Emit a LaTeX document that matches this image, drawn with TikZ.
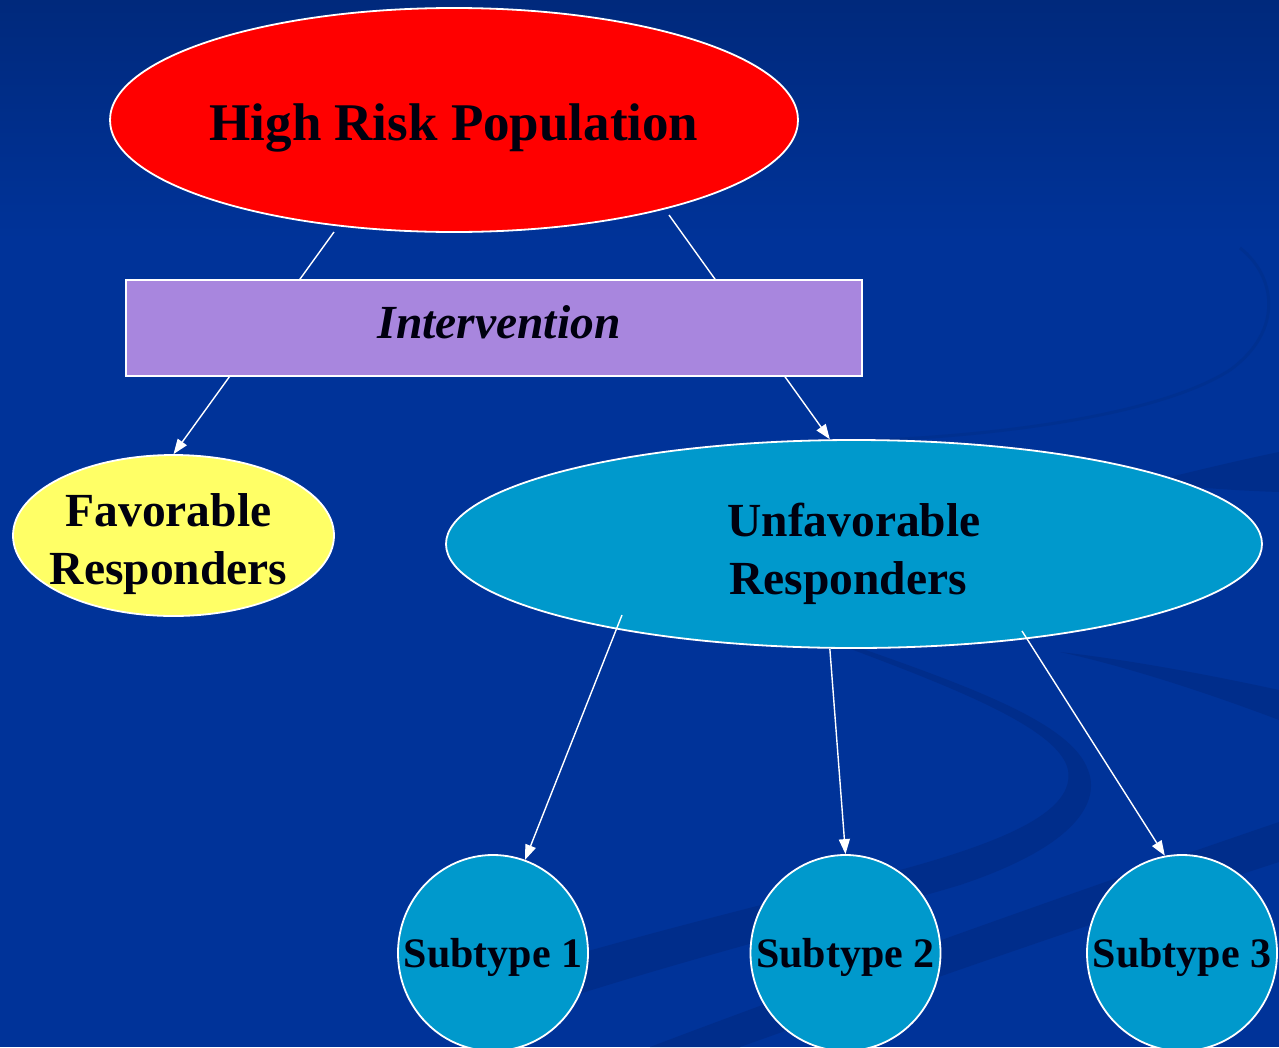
\documentclass[tikz,border=0pt]{standalone}
\usepackage{fontspec}
\setmainfont{Liberation Serif}
\usetikzlibrary{shapes.geometric,arrows.meta,calc}
\definecolor{bgblue}{HTML}{003399}
\definecolor{bgtop}{HTML}{00297C}
\definecolor{swoosh}{HTML}{002D8B}
\definecolor{swooshfaint}{HTML}{003090}
\definecolor{redfill}{HTML}{FF0000}
\definecolor{lilac}{HTML}{A886DE}
\definecolor{lemon}{HTML}{FFFF66}
\definecolor{cyanfill}{HTML}{0099CC}
\definecolor{inkblack}{HTML}{00000F}
% text placed with its baseline at a given offset, taking no room
\newcommand{\placedtext}[2]{\raisebox{#1}[0pt][0pt]{\makebox[0pt]{#2}}}
\pgfdeclarelayer{bglayer}
\pgfdeclarelayer{edgelayer}
\pgfdeclarelayer{frontlayer}
\pgfsetlayers{bglayer,edgelayer,main,frontlayer}
\tikzset{
  oval/.style={ellipse, draw=white, line width=1.8pt, inner sep=0pt, text=inkblack, align=center},
  bigtext/.style={font=\fontsize{53}{60}\selectfont\bfseries},
  midtext/.style={font=\fontsize{47.5}{58}\selectfont\bfseries},
  smalltext/.style={font=\fontsize{42}{48}\selectfont\bfseries},
  boxstyle/.style={rectangle, draw=white, line width=1.8pt, fill=lilac, text=inkblack,
    minimum width=736pt, minimum height=96pt, inner sep=0pt},
  subnode/.style={oval, fill=cyanfill, minimum width=190pt, minimum height=196pt, smalltext},
  arr/.style={draw=white, line width=1.4pt, -{Triangle[width=11pt,length=15pt,fill=white]}},
}
\begin{document}
\begin{tikzpicture}[x=1pt,y=-1pt]
\useasboundingbox (0,0) rectangle (1279,1047);

% nodes
\node[oval, fill=redfill, minimum width=688pt, minimum height=224pt, bigtext] (hrp) at (454,120)
  {\placedtext{-20pt}{High Risk Population}};
\node[boxstyle, font=\fontsize{47.5}{57}\selectfont\bfseries\itshape] (intv) at (494,328)
  {\placedtext{-10pt}{\hspace{10pt}Intervention}};
\node[oval, fill=lemon, minimum width=321pt, minimum height=161pt, midtext] (fav) at (173.5,535.5)
  {\placedtext{-20pt}{\hspace{-10pt}Favorable}\\\placedtext{-20pt}{\hspace{-10pt}Responders}};
\node[oval, fill=cyanfill, minimum width=816pt, minimum height=208pt, midtext] (unf) at (854,544)
  {\placedtext{-21pt}{Unfavorable}\\\placedtext{-21pt}{\hspace{-12pt}Responders}};
\node[subnode] (sub1) at (493,953) {\placedtext{-14pt}{Subtype 1}};
\node[subnode] (sub2) at (845.5,953) {\placedtext{-14pt}{Subtype 2}};
\node[subnode] (sub3) at (1182,953) {\placedtext{-14pt}{Subtype 3}};

% background
\begin{pgfonlayer}{bglayer}
  \fill[bgblue] (0,0) rectangle (1279,1047);
  \shade[top color=bgtop, bottom color=bgblue] (0,0) rectangle (1279,240);
  % faint upper arc
  \draw[swooshfaint, line width=3pt] (1240,248) .. controls (1275,275) and (1285,330) .. (1230,370)
      .. controls (1160,415) and (1000,435) .. (880,440);
  % right bands behind the big ellipse
  \fill[swoosh] (1279,452) -- (1279,492) .. controls (1220,490) and (1180,486) .. (1150,482)
      .. controls (1190,472) and (1240,460) .. cycle;
  \fill[swoosh] (1279,690) -- (1279,720) .. controls (1200,690) and (1120,665) .. (1060,652)
      .. controls (1130,660) and (1210,675) .. cycle;
  % swirl band
  \fill[swoosh] (848,648) .. controls (960,690) and (1060,730) .. (1068,770)
      .. controls (1075,810) and (1010,840) .. (900,870)
      .. controls (780,900) and (640,935) .. (540,965)
      -- (560,1000)
      .. controls (700,955) and (860,915) .. (960,885)
      .. controls (1080,845) and (1100,800) .. (1088,770)
      .. controls (1072,725) and (980,690) .. (860,648) -- cycle;
  % lower band
  \fill[swoosh] (1279,822) -- (1279,862) .. controls (1100,920) and (900,990) .. (740,1047)
      -- (650,1047) .. controls (800,990) and (1050,900) .. cycle;
\end{pgfonlayer}

% connectors behind the box
\begin{pgfonlayer}{edgelayer}
  \draw[arr] ($(hrp.center)+(-120,112)$) -- (fav.north);
  \draw[arr] ($(hrp.center)+(215,95)$) -- (unf.103.5);
\end{pgfonlayer}

% connectors on top of the big ellipse
\begin{pgfonlayer}{frontlayer}
  \draw[arr] ($(unf.center)+(-232,71)$) -- (sub1.71);
  \draw[arr] (unf.257) -- (sub2.north);
  \draw[arr] ($(unf.center)+(168,87)$) -- (sub3.100);
\end{pgfonlayer}
\end{tikzpicture}
\end{document}
